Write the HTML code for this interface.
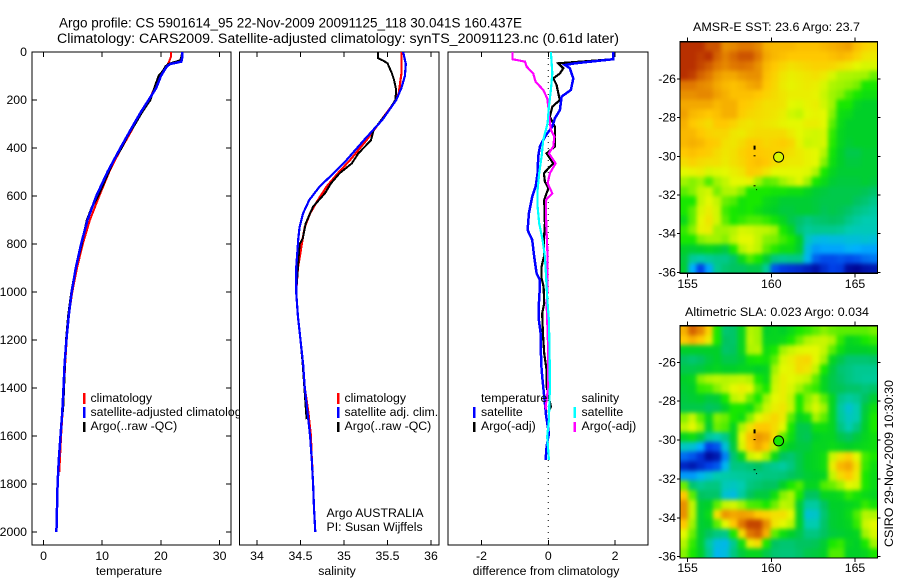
<!DOCTYPE html>
<html>
<head>
<meta charset="utf-8">
<title>Argo profile</title>
<style>
html,body{margin:0;padding:0;background:#fff}
svg{display:block}
text{font-family:"Liberation Sans",sans-serif;font-size:12.3px;fill:#000}
</style>
</head>
<body>
<svg id="chart" xmlns="http://www.w3.org/2000/svg" width="900" height="580" viewBox="0 0 900 580">
<defs>
<clipPath id="clipLegend"><rect x="80" y="400" width="159" height="25"/></clipPath>
<clipPath id="clipSst"><rect x="680" y="41.7" width="197.5" height="231.6"/></clipPath>
<clipPath id="clipSla"><rect x="680" y="325.7" width="197.5" height="232.3"/></clipPath>
<filter id="mapBlur" filterUnits="userSpaceOnUse" x="640" y="0" width="260" height="580" color-interpolation-filters="sRGB"><feGaussianBlur stdDeviation="2.2"/></filter>
</defs>
<rect width="900" height="580" fill="#fff"/>
<text x="59" y="27.5" textLength="463" lengthAdjust="spacingAndGlyphs" style="font-size:13.5px">Argo profile: CS 5901614_95 22-Nov-2009 20091125_118 30.041S 160.437E</text>
<text x="57" y="43" textLength="562" lengthAdjust="spacingAndGlyphs" style="font-size:13.5px">Climatology: CARS2009. Satellite-adjusted climatology: synTS_20091123.nc (0.61d later)</text>
<g id="marks"></g>
<g id="legends">
<rect x="83" y="393" width="2.5" height="11" fill="#f00"/>
<text x="90.5" y="402">climatology</text>
<rect x="83" y="407" width="2.5" height="11" fill="#00f"/>
<text x="90.5" y="416" clip-path="url(#clipLegend)">satellite-adjusted climatology</text>
<rect x="83" y="422" width="2.5" height="10" fill="#000"/>
<text x="90.5" y="430">Argo(..raw -QC)</text>
<rect x="337" y="393" width="2.5" height="11" fill="#f00"/>
<text x="344.5" y="402">climatology</text>
<rect x="337" y="407" width="2.5" height="11" fill="#00f"/>
<text x="344.5" y="416">satellite adj. clim.</text>
<rect x="337" y="422" width="2.5" height="10" fill="#000"/>
<text x="344.5" y="430">Argo(..raw -QC)</text>
<text x="326.5" y="517">Argo AUSTRALIA</text>
<text x="326.5" y="531">PI: Susan Wijffels</text>
<text x="481" y="402">temperature</text>
<rect x="473" y="407" width="2.5" height="11" fill="#00f"/>
<text x="481" y="416">satellite</text>
<rect x="473" y="422" width="2.5" height="10" fill="#000"/>
<text x="481" y="430">Argo(-adj)</text>
<text x="581.5" y="402">salinity</text>
<rect x="573.5" y="407" width="2.5" height="11" fill="#0ff"/>
<text x="581.5" y="416">satellite</text>
<rect x="573.5" y="422" width="2.5" height="10" fill="#f0f"/>
<text x="581.5" y="430">Argo(-adj)</text>
</g>
<text x="129" y="575" text-anchor="middle">temperature</text>
<text x="337" y="575" text-anchor="middle">salinity</text>
<text x="546" y="575" text-anchor="middle">difference from climatology</text>
<text x="693" y="31" textLength="167" lengthAdjust="spacingAndGlyphs">AMSR-E SST: 23.6 Argo: 23.7</text>
<text x="685" y="316" textLength="184" lengthAdjust="spacingAndGlyphs">Altimetric SLA: 0.023 Argo: 0.034</text>
<text transform="translate(893,547) rotate(-90)" textLength="167" lengthAdjust="spacingAndGlyphs">CSIRO 29-Nov-2009 10:30:30</text>
</svg>
<script>
// ---- profile data ----
const tempClimDepth = [0,20,40,60,80,100,150,200,250,300,350,400,450,500,600,700,800,900,1000,1100,1200,1300,1400,1500,1600,1700,1750];
const tempClim = [21.7,21.7,21.4,21.0,20.5,19.7,18.9,18.0,16.8,15.6,14.5,13.3,12.2,11.2,9.5,7.9,6.7,5.7,4.9,4.3,3.95,3.7,3.5,3.25,3.0,2.8,2.7];
const tempSatDepth = [0,20,40,50,60,80,100,150,200,250,300,400,500,600,700,800,900,1000,1100,1200,1300,1400,1500,1600,1700,1800,1900,1950,2000];
const tempSat = [23.65,23.65,23.5,21.6,21.0,20.5,20.0,19.2,17.9,16.6,15.4,13.1,10.9,9.0,7.5,6.4,5.5,4.8,4.3,3.9,3.6,3.4,3.2,2.9,2.6,2.4,2.3,2.25,2.2];
const tempArgoDepth = [0,20,35,50,60,80,100,150,200,250,300,350,400,450,500,600,650,700,800,900,1000,1100,1200,1300,1400,1500];
const tempArgo = [23.65,23.5,23.3,21.3,20.8,20.3,19.6,18.9,18.2,16.8,15.6,14.3,13.3,12.0,11.1,9.3,8.2,7.4,6.5,5.5,4.75,4.2,3.85,3.65,3.5,3.3];

const salClimDepth = [0,90,170,200,283,367,450,505,561,617,672,729,778,900,1000,1100,1200,1300,1400,1500,1600,1700,1750];
const salClim = [35.66,35.66,35.63,35.6,35.43,35.26,35.07,34.93,34.8,34.7,34.61,34.55,34.525,34.47,34.45,34.47,34.5,34.53,34.55,34.59,34.62,34.63,34.64];
const salSatDepth = [0,50,100,150,200,283,367,450,505,561,617,672,729,778,900,1000,1100,1200,1300,1400,1500,1600,1700,1800,1900,2000];
const salSat = [35.68,35.71,35.7,35.66,35.6,35.44,35.23,35.03,34.88,34.72,34.6,34.53,34.49,34.475,34.45,34.45,34.47,34.5,34.53,34.55,34.58,34.61,34.63,34.645,34.655,34.67];
const salArgoDepth = [0,25,36,47,88,116,158,200,242,283,325,367,394,422,464,505,547,589,644,714,778,800,900,1000,1100,1200,1300,1400,1530];
const salArgo = [35.39,35.39,35.45,35.5,35.55,35.575,35.6,35.59,35.52,35.43,35.34,35.31,35.24,35.165,35.09,34.95,34.85,34.78,34.645,34.56,34.525,34.49,34.47,34.45,34.47,34.5,34.525,34.545,34.57];

const diffTSatDepth = [0,30,47,54,68,110,158,186,242,276,311,353,394,436,505,561,603,672,742,783,853,922,950,978,1047,1117,1172,1255,1325,1394,1464,1519,1589,1644,1700];
const diffTSat = [1.95,1.95,0.8,0.5,0.65,0.75,0.68,0.4,0.35,0.2,0.12,-0.1,-0.25,-0.3,-0.32,-0.38,-0.48,-0.58,-0.62,-0.48,-0.42,-0.35,-0.25,-0.25,-0.28,-0.28,-0.23,-0.22,-0.2,-0.15,-0.1,-0.06,0.02,-0.05,-0.08];
const diffTArgoDepth = [0,30,47,68,89,110,137,172,200,228,269,311,353,394,422,464,505,540,568,617,714,783,853,894,943,978,1047,1089,1172,1255,1325,1394,1478,1500];
const diffTArgo = [1.95,1.95,0.3,0.45,0.35,0.15,0.25,0.3,0.35,0.12,0.05,0.2,0.2,0.2,-0.05,0.15,-0.13,-0.1,0,-0.12,-0.1,-0.13,-0.13,-0.2,-0.2,-0.14,-0.12,-0.18,-0.16,-0.12,-0.05,-0.05,0.08,0];
const diffSSatDepth = [0,89,158,228,297,367,436,505,575,644,714,783,853,922,978,1047,1117,1255,1394,1533,1603,1700];
const diffSSat = [0.08,0.12,0.08,0.02,-0.02,-0.15,-0.2,-0.27,-0.32,-0.32,-0.27,-0.17,-0.1,-0.07,-0.05,-0.02,0.02,0.04,0.05,0.02,-0.03,0.02];
const diffSArgoDepth = [0,30,40,61,89,124,158,193,228,262,325,353,394,422,464,505,547,589,617,714,783,853,943,978,1047,1117,1255,1394,1478,1490];
const diffSArgo = [-1.07,-1.07,-0.7,-0.65,-0.45,-0.38,-0.15,-0.03,0,0.02,0.08,0.18,0.15,0.02,0.22,0.05,-0.02,0.12,-0.07,-0.06,-0.04,-0.02,-0.03,-0.02,-0.05,-0.03,0,0,-0.08,-0.06];

// ---- tick labels ----
const depthTicks = [0,200,400,600,800,1000,1200,1400,1600,1800,2000];
const tempTicks = [0,10,20,30];
const salTicks = [34,34.5,35,35.5,36];
const diffTicks = [-2,0,2];
const lonTicks = [155,160,165];
const latTicks = [-26,-28,-30,-32,-34,-36];

// ---- gridded maps: colour-scale units 0 (navy) .. 10 (dark red), north to south ----
const sstGrid = [
[10,10,10,9.5,9.5,8.7,8.8,9,9,8.8,8.3,8.2,8.2,8.2,8.1,8.1,8.1,8.2,8.3,8.4,8.5,8.1,7.8,7.6],
[10,10,9.8,10,9.3,8.9,9.2,9.5,9.5,9,8.4,8.2,8.1,8,8,8,8,8,8.1,8.2,8.1,7.8,7.4,7.3],
[10,10,9.7,9.4,9,8.8,9,9.1,9,8.7,8.2,8,7.7,7.5,7.6,7.7,7.8,7.8,7.7,7.5,7.3,7,6.8,6.8],
[10,9.8,9.3,9,8.6,8.4,8.4,8.6,8.7,8.7,8.1,7.8,7.4,7.2,7.3,7.4,7.5,7.3,6.8,6.3,6.2,6.1,6,5.6],
[9,9,8.8,8.7,8.4,8.2,8.1,8.2,8.4,8.5,8,7.7,7.3,7.1,7.2,7.3,7.2,6.8,6.2,6,5.9,5.7,5,5],
[8.7,8.7,8.8,8.8,8.5,8.3,8.1,8.1,8.1,8,7.8,7.6,7.4,7.2,7.2,7.2,7.1,6.6,6,5.8,5.3,5,4.8,4.8],
[8.4,8.4,8.4,8.4,8.2,8.3,8.3,8,7.9,7.7,7.5,7.5,7.4,7,6.9,7.1,7.2,6.7,6,5,5,4.6,4.5,4.5],
[8.5,8.2,8.1,8,8.1,8.3,8.3,7.9,7.7,7.6,7.5,7.4,7.2,6.7,6.5,7,7.1,7,5.8,4.8,4.7,4.5,4.5,4.5],
[8.3,8,7.8,7.6,8,8,7.8,7.5,7.4,7.5,7.4,7.3,7.1,7,7,7.2,7.2,7,5.5,4.7,4.5,4.5,4.5,4.5],
[8.2,8.2,8,7.8,7.7,7.7,7.4,7.3,7.5,7.6,7.6,7.6,7.6,7.3,7,6.8,6.7,6.8,5.2,4.6,4.5,4.5,4.5,4.5],
[8.2,8.3,8.2,8,7.9,7.5,7.4,7.6,7.9,7.9,7.7,7.8,7.9,7.7,7.1,6.6,6.7,6.8,5.1,4.6,4.4,4.5,4.5,4.5],
[8,8.1,8,7.9,7.6,7.4,7.5,7.8,8,8,7.9,7.8,7.7,7.5,7.3,7.1,7,6.3,4.9,4.5,4.2,4.2,4.4,4.4],
[7.6,7.8,7.6,7.5,7.5,7.3,7.5,7.7,8,8.1,8,7.6,7.4,7.3,7.3,7.1,7,5.8,4.8,4.5,4.3,4.3,4.4,4.4],
[7,7.1,7.2,6.8,6.9,7,7.2,7.4,7.9,7.8,7.4,7,7,7,7,6.9,6.2,5,4.6,4.4,4.4,4.4,4.4,4.4],
[6,5.8,6,5.4,6,6.5,7,7,7.1,6,5.5,5.6,6,6.5,6.9,6,5,4.7,4.4,4.3,4.3,4.3,4.4,4.3],
[5.5,5.8,6.5,6.7,5.7,6.2,6.3,5.8,5,5,5,4.9,4.9,4.8,4.8,4.6,4.4,4.3,4.2,4.2,4.2,4.2,4.1,3.9],
[5,5,6.5,7,6.5,5.6,5.4,4.9,5,5,4.7,4.6,4.4,4.4,4.4,4.4,4.3,4.2,4.2,4.2,4.2,4,3.8,3.5],
[5,5.5,6.8,7.2,6.7,5.3,5,4.9,5,4.8,4.6,4.5,4.3,4.3,4.4,4.4,4.3,4.1,4.2,4.1,3.9,3.6,3.4,3.2],
[4.7,5.5,7,7.4,6.7,5.5,5,5.2,5.4,5.4,5.2,4.9,4.6,4.2,3.9,3.6,3.8,3.9,4,3.9,3.5,3.2,3,3],
[5.2,5.8,7.1,7.2,6,6,6.3,6.8,6.7,6.5,6.4,6,5,4.6,3.7,3.3,3.4,3.4,3.4,3.3,3,2.9,2.9,2.9],
[5,5,5.8,6,6,5.8,6.5,7,7,6.5,5.8,5.7,5.3,5,4.5,2.8,2.4,2.3,2.4,2.4,2.5,2.5,2.6,2.5],
[4.5,4.4,4.5,4.6,4.5,4.3,5,6.3,6.8,6.4,5.5,5.1,4.8,4.8,4.4,2.4,1.8,1.9,1.9,1.9,2.1,2,1.9,1.9],
[4.3,3.3,3.1,3.3,3.5,3.5,3.9,4.7,5.4,5,4.4,3.6,3.4,3.5,3.5,2.2,1.3,1.1,1.1,1.2,1.1,1.2,1.4,1.5],
[4.4,2,1,1.9,3.4,3.8,4,4,4.2,4.2,3.3,1.2,0.9,0.8,0.7,0.5,0.3,0.7,1,0.9,0.2,0.1,0.3,0.4]
];
const slaGrid = [
[8.3,9.3,8.8,7.8,5,3.8,3.9,4.6,6.3,6,4.5,4.6,4.5,4.7,5,5.2,5.5,5.8,5.6,5.5,5.5,5.5,5.5,5.7],
[8,8.3,8,7.3,5,4,3.9,4.6,6.4,6,4.6,4.6,4.7,5,5.6,6.2,6.5,6.6,6.2,5.2,4.6,4.7,5,5.2],
[4.5,4.5,4.5,4.5,4.5,3.9,4,4.6,6.2,6.3,4.8,5,6,6.6,6.9,7,7,6.5,5.5,4.8,4.5,4.5,4.5,4.6],
[4,3.8,4,4.3,4.5,4.2,4.2,4.4,4.9,5,4.9,5.5,6.8,7.2,7.6,7.7,7,6,4.6,4.2,3.8,3.8,3.8,3.9],
[4.2,4.2,4.3,4.5,4.6,4.5,4.5,4.6,4.6,4.5,4.6,6,7,7.1,7.6,7.4,6.5,5,4.3,3.8,3.6,3.4,3.4,3.4],
[4.5,4.6,5.8,6.2,6.4,6.3,6.4,6.5,6.2,5,4.7,6.5,7.2,7,6.8,6.5,5.5,4.6,4.2,3.9,3.6,3.4,3.3,3.3],
[4.4,4.5,5.2,5.3,5.8,6.4,7,7.2,7,5.5,5,6.7,7.2,6.8,6,5.5,5.2,4.6,4.2,4.1,3.9,3.9,3.7,3.9],
[4.3,4.4,4.5,4.3,4.4,5,6.4,6.7,5.6,5,6,7,7.2,6.5,5,5.8,6.4,5.5,4.6,3.5,3.2,3.4,4,4.4],
[4.2,4.2,4.2,4,4.1,4.5,5,5,4.8,5.6,6.6,7.2,7.4,6.6,5,6,6.8,6,4.6,3.2,2.6,3,4.3,4.8],
[5.8,6.6,5.5,4.6,5.8,5.6,5,4.8,5.8,7,7.4,7.7,7.3,5.5,4.6,4.8,6,5.5,4.6,3.3,2.8,3,4.4,5],
[6.4,7,6,4.4,5.6,5.4,4.6,6.2,7.4,8,8,7.6,7,5,4.2,4.2,4.8,4.8,4.6,3.6,3,3.6,4.5,5],
[4.6,4.8,4.3,3.3,3,3.5,4.5,7,8.1,8.6,8.4,7.5,5.5,4.8,4.2,4.1,4.5,4.6,4.6,4.2,4,4.3,4.6,4.8],
[2.8,2.6,2,1,1.2,2.5,4.3,6.8,8,8.4,8,6.3,4.8,4.5,4.3,4.3,4.6,4.6,4.7,4.6,4.5,4.6,4.7,4.8],
[1.4,1.2,0.8,0.2,0.4,1.6,3.8,4.6,6.6,7,6,4.7,4,3.8,4.2,4.5,4.6,4.8,6.6,7.4,7.8,7,5.3,5],
[0.6,0.4,0.7,1,1.2,2.2,3.6,3.6,3.8,4,3.6,3.4,3.2,3.6,4.2,4.5,4.6,4.8,7.2,8.2,8.4,7.5,5.2,4.8],
[1.8,1.8,2.2,2.6,3,3.1,3.2,3.3,3.4,3.5,3.6,3.6,3.7,4,4.2,4.4,4.5,4.6,6.5,7.6,8,7.3,5,4.7],
[5.6,3.8,3.4,3.6,3.6,2.9,2.8,3,3.6,3.8,4,4,4.5,5,5.4,4.6,4.6,5.4,5.6,6,7,6.8,5,4.7],
[8,5.5,4,3.9,3.9,2.6,2.4,3.2,4,4.3,4.3,4.8,5.8,6.2,5,4,4,4.6,4.6,4.7,5.2,4.9,4.7,4.6],
[8.7,6.5,4.4,4.5,5.5,6.5,6.7,6,5.4,5.3,5,5.6,6.4,6.2,4.4,3.2,3.2,4,4.5,4.5,4.6,4.7,5.2,4.9],
[8.7,6.5,4.4,4.7,7.5,8.6,8.4,8.5,8.4,8,7.8,7.5,7.5,7,4.5,2.6,2.7,3.8,4.4,4.5,4.7,5.4,6.3,6.2],
[8,6,4.4,4.5,5.5,7,8,9,9.7,9.7,8.7,7.4,7,6.4,4.5,3,3,3.9,4.4,4.5,4.6,5.2,6.6,7],
[7,5.6,4.4,4,3.6,3.5,5,7.6,9,9.3,8.3,5.5,4.8,4.5,4.2,3.6,3.6,4,4.3,4.4,4.5,4.6,6,6.8],
[6.3,5.2,4.4,3.2,2.4,2.3,3.4,4.8,7.2,7.6,5,4,3.8,3.8,4,4,4.1,4.4,5,5.2,4.6,4.5,5,6],
[5.8,5,4.5,3.4,2.2,2.4,3.6,4.3,4.6,4.6,4.2,3.8,3.7,3.7,3.9,4.2,4.3,4.5,5.4,5.4,4.5,4.5,4.6,5]
];
const floatLon = [160.437];
const floatLat = [-30.041];
const trackLon = [159.0,159.0,159.0,159.15];
const trackLat = [-29.5,-30.0,-31.55,-31.75];

const marks = document.getElementById('marks');
function mk(tag, parent){
  const el = document.createElementNS('http://www.w3.org/2000/svg', tag);
  (parent || marks).appendChild(el);
  return el;
}
function scale(d0, d1, r0, r1){ return v => r0 + (v - d0) * (r1 - r0) / (d1 - d0); }

const Y_TOP = 52, Y_BOT = 545;
const yDepth = scale(0, 2000, 52, 532);
const xTemp = scale(0, 30, 43.5, 219.6);
const xSal = scale(34, 36, 257, 431);
const xDiff = scale(-2, 2, 481.5, 615);

const colorStops = [[0,0,0,140],[1,0,64,232],[2,0,176,255],[3,0,204,176],[4,0,196,96],[4.5,0,208,40],[5,24,232,0],[6,160,244,0],[7,228,248,0],[8,255,200,0],[9,224,120,0],[10,184,48,0]];
function cmap(v){
  for (let i = 1; i < colorStops.length; i++){
    if (v <= colorStops[i][0]){
      const a = colorStops[i-1], b = colorStops[i], t = (v - a[0]) / (b[0] - a[0]);
      return 'rgb(' + Math.round(a[1]+(b[1]-a[1])*t) + ',' + Math.round(a[2]+(b[2]-a[2])*t) + ',' + Math.round(a[3]+(b[3]-a[3])*t) + ')';
    }
  }
  return 'rgb(184,48,0)';
}

function profile(depths, values, xf, color, width, name){
  const el = mk('polyline');
  
  
  el.setAttribute('points', depths.map((d, i) => xf(values[i]).toFixed(1) + ',' + yDepth(d).toFixed(1)).join(' '));
  el.setAttribute('fill', 'none');
  el.setAttribute('stroke', color);
  el.setAttribute('stroke-width', width);
  el.setAttribute('shape-rendering', 'crispEdges');
}

function tick(x1, y1, x2, y2){
  const el = mk('line');
  
  
  el.setAttribute('x1', x1);
  el.setAttribute('y1', y1);
  el.setAttribute('x2', x2);
  el.setAttribute('y2', y2);
  el.setAttribute('stroke', '#000');
  el.setAttribute('stroke-width', 1);
  el.setAttribute('shape-rendering', 'crispEdges');
}

function label(x, y, str, anchor){
  const el = mk('text');
  
  
  el.setAttribute('x', x);
  el.setAttribute('y', y);
  el.setAttribute('text-anchor', anchor);
  el.textContent = str;
}

function frame(x0, x1, y0, y1, fill, name){
  const el = mk('rect');
  
  
  el.setAttribute('x', x0);
  el.setAttribute('y', y0);
  el.setAttribute('width', x1 - x0);
  el.setAttribute('height', y1 - y0);
  el.setAttribute('fill', fill);
  el.setAttribute('stroke', '#000');
  el.setAttribute('stroke-width', 1.3);
  el.setAttribute('shape-rendering', 'crispEdges');
}

function xTicks(ticks, xf){
  ticks.forEach(t => {
    tick(xf(t), Y_TOP, xf(t), Y_TOP + 5);
    tick(xf(t), Y_BOT - 5, xf(t), Y_BOT);
    label(xf(t), 560, String(t), 'middle');
  });
}

// temperature panel
frame(32, 231, Y_TOP, Y_BOT, 'none', 'temperature-panel-frame');
depthTicks.forEach(d => {
  tick(32, yDepth(d), 37, yDepth(d));
  tick(226, yDepth(d), 231, yDepth(d));
  label(27, yDepth(d) + 4, String(d), 'end');
});
xTicks(tempTicks, xTemp);
profile(tempClimDepth, tempClim, xTemp, '#f00', 2, 'temperature-climatology-line');
profile(tempArgoDepth, tempArgo, xTemp, '#000', 2.2, 'temperature-argo-line');
profile(tempSatDepth, tempSat, xTemp, '#00f', 2.5, 'temperature-satellite-line');

// salinity panel
frame(239.5, 439, Y_TOP, Y_BOT, '#fff', 'salinity-panel-frame');
xTicks(salTicks, xSal);
profile(salClimDepth, salClim, xSal, '#f00', 2.2, 'salinity-climatology-line');
profile(salArgoDepth, salArgo, xSal, '#000', 2, 'salinity-argo-line');
profile(salSatDepth, salSat, xSal, '#00f', 2.2, 'salinity-satellite-line');

// difference panel
frame(448, 648, Y_TOP, Y_BOT, '#fff', 'difference-panel-frame');
xTicks(diffTicks, xDiff);
const zeroLine = mk('line');


zeroLine.setAttribute('x1', xDiff(0));
zeroLine.setAttribute('y1', Y_TOP);
zeroLine.setAttribute('x2', xDiff(0));
zeroLine.setAttribute('y2', Y_BOT);
zeroLine.setAttribute('stroke', '#000');
zeroLine.setAttribute('stroke-width', 1);
zeroLine.setAttribute('stroke-dasharray', '1 5');
profile(diffTArgoDepth, diffTArgo, xDiff, '#000', 2.2, 'difference-temp-argo-line');
profile(diffTSatDepth, diffTSat, xDiff, '#00f', 2.5, 'difference-temp-satellite-line');
profile(diffSArgoDepth, diffSArgo, xDiff, '#f0f', 2.2, 'difference-sal-argo-line');
profile(diffSSatDepth, diffSSat, xDiff, '#0ff', 2.2, 'difference-sal-satellite-line');

function drawMap(grid, x0, x1, y0, y1, yAt30, yPerDeg, floatFill, name, labelY, clipId){
  const xLon = scale(160, 165, 771.3, 855);
  const yLat = scale(-30, -36, yAt30, yAt30 + 6 * yPerDeg);
  const rows = grid.length, cols = grid[0].length;
  const cw = (x1 - x0) / cols, ch = (y1 - y0) / rows;
  const clipGroup = mk('g');
  
  
  clipGroup.setAttribute('clip-path', 'url(#' + clipId + ')');
  const blurGroup = mk('g', clipGroup);
  
  
  blurGroup.setAttribute('filter', 'url(#mapBlur)');
  const pad = 10;
  grid.forEach((row, r) => {
    row.forEach((v, c) => {
      const cell = mk('rect', blurGroup);
      const padL = c === 0 ? pad : 0, padR = c === cols - 1 ? pad : 0;
      const padT = r === 0 ? pad : 0, padB = r === rows - 1 ? pad : 0;
      
      
      cell.setAttribute('x', (x0 + c * cw - padL).toFixed(2));
      cell.setAttribute('y', (y0 + r * ch - padT).toFixed(2));
      cell.setAttribute('width', (cw + 0.4 + padL + padR).toFixed(2));
      cell.setAttribute('height', (ch + 0.4 + padT + padB).toFixed(2));
      cell.setAttribute('fill', cmap(v));
    });
  });
  frame(x0, x1, y0, y1, 'none', name + '-frame');
  lonTicks.forEach(t => {
    tick(xLon(t), y0 - 4, xLon(t), y0);
    tick(xLon(t), y1, xLon(t), y1 + 4);
    label(xLon(t), labelY, String(t), 'middle');
  });
  latTicks.forEach(t => {
    tick(x0 - 3, yLat(t), x0, yLat(t));
    tick(x1, yLat(t), x1 + 3, yLat(t));
    label(x0 - 4, yLat(t) + 4, String(t), 'end');
  });
  trackLon.forEach((lon, i) => {
    const p = mk('rect');
    
    
    p.setAttribute('x', xLon(lon) - 1);
    p.setAttribute('y', yLat(trackLat[i]) - 1);
    p.setAttribute('width', i === 3 ? 1 : 2);
    p.setAttribute('height', i === 0 ? 4 : 1);
    p.setAttribute('fill', '#000');
  });
  const c = mk('circle');
  
  
  c.setAttribute('cx', xLon(floatLon[0]));
  c.setAttribute('cy', yLat(floatLat[0]));
  c.setAttribute('r', 5);
  c.setAttribute('fill', floatFill);
  c.setAttribute('stroke', '#000');
  c.setAttribute('stroke-width', 1);
}

drawMap(sstGrid, 680, 877.5, 41.7, 273.3, 156.3, 19.35, cmap(6.8), 'sst-map', 288, 'clipSst');
drawMap(slaGrid, 680, 877.5, 325.7, 558, 440.1, 19.44, cmap(5), 'sla-map', 572, 'clipSla');
</script>
</body>
</html>
